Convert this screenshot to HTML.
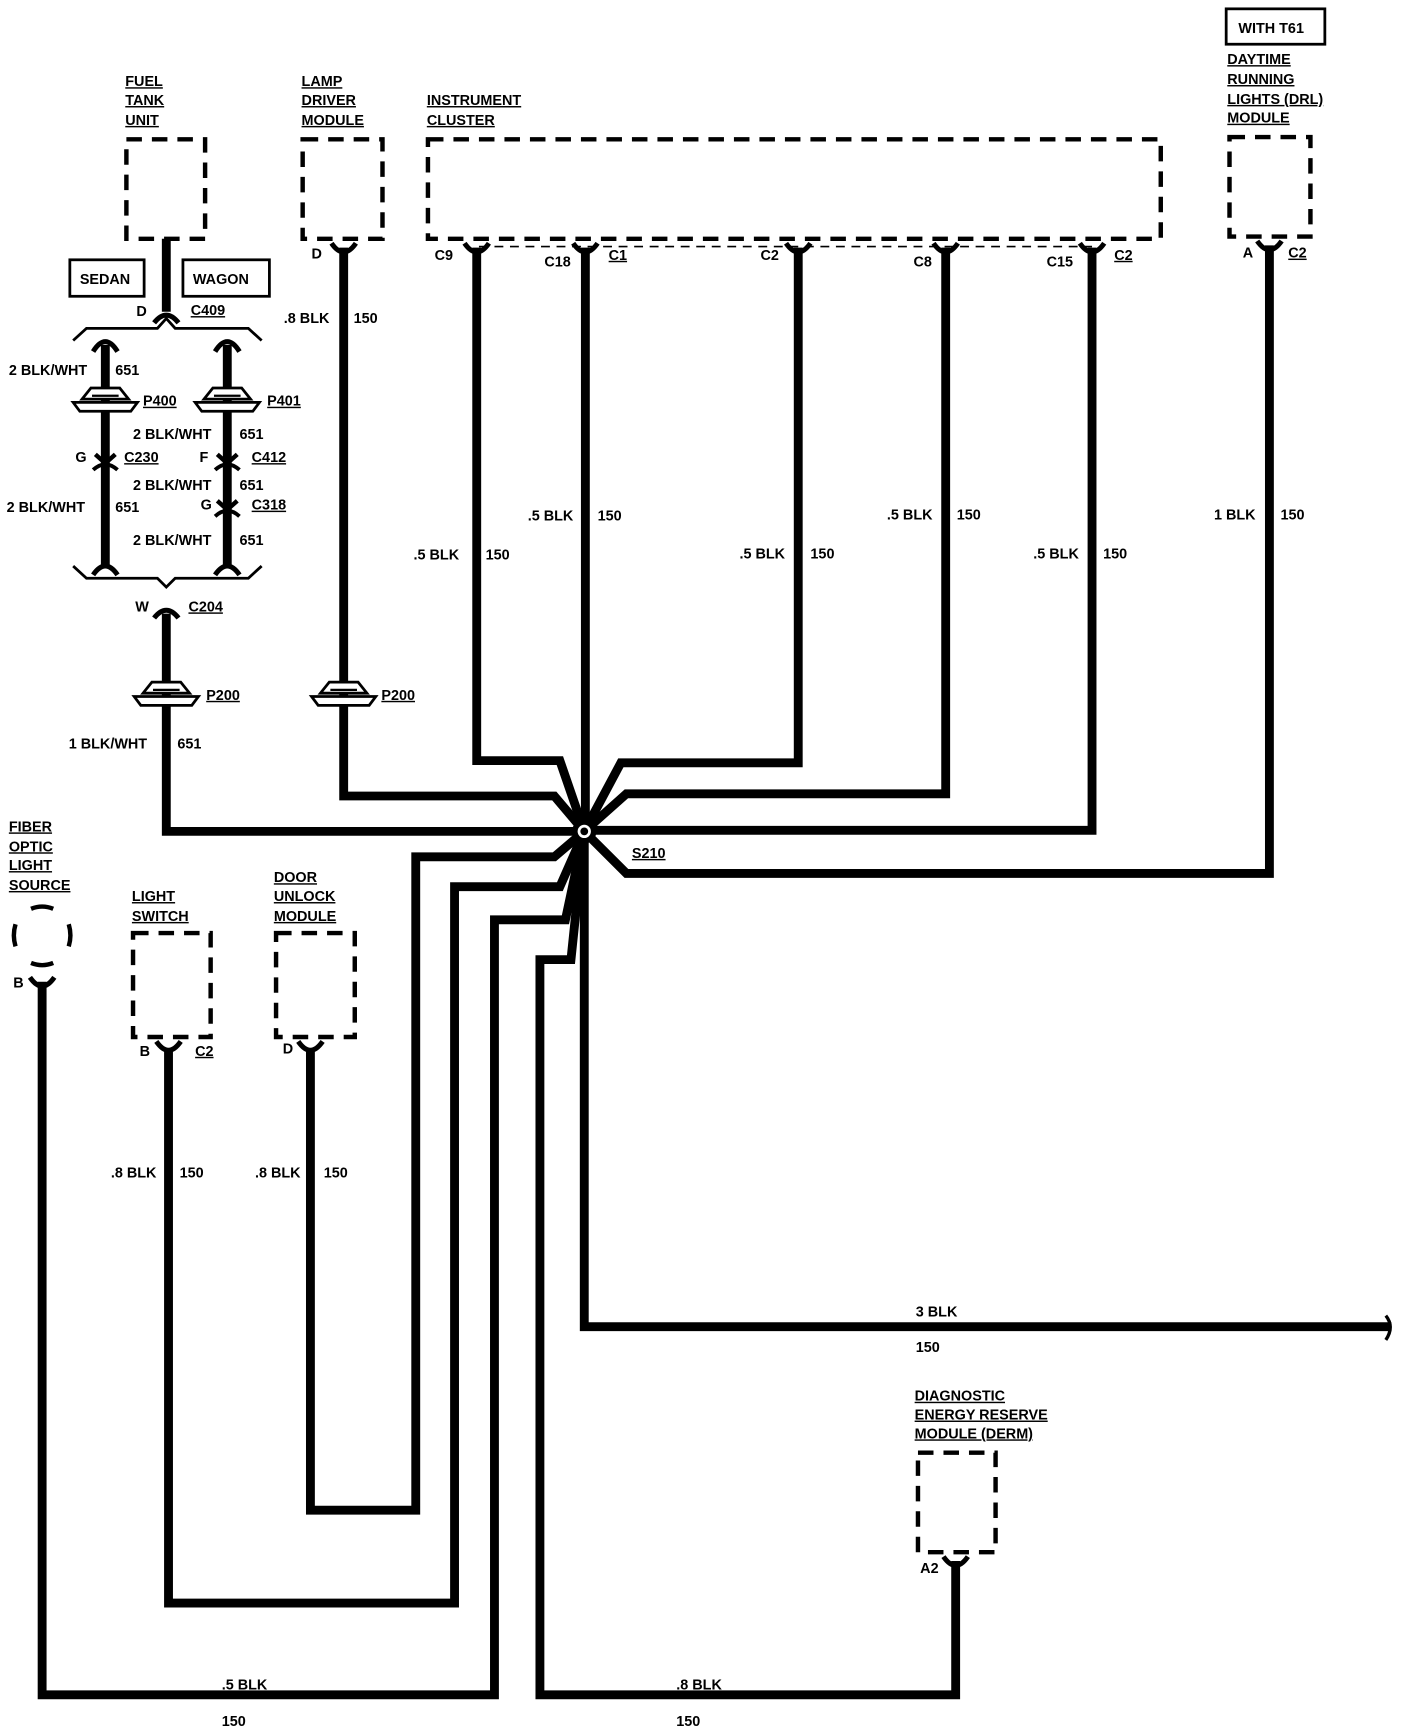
<!DOCTYPE html>
<html><head><meta charset="utf-8"><style>
html,body{margin:0;padding:0;background:#fff;}
svg{display:block}
text{font-family:"Liberation Sans",sans-serif;font-weight:bold;font-size:13px;fill:#000}
.u{text-decoration:underline}
</style></head><body>
<svg width="1408" height="1728" viewBox="0 0 1270 1563" preserveAspectRatio="none" xmlns="http://www.w3.org/2000/svg">
<defs>
<g id="fc"><path d="M-11,-8 Q0,8 11,-8" fill="none" stroke="#000" stroke-width="4.5"/></g>
<g id="ip">
<polygon points="-21,-1 -13,-11 13,-11 21,-1" fill="#fff" stroke="#000" stroke-width="2.5"/>
<polygon points="-29,2 29,2 23,10 -23,10" fill="#fff" stroke="#000" stroke-width="2.5"/>
<line x1="-12" y1="-4" x2="12" y2="-4" stroke="#000" stroke-width="2"/>
</g>
<g id="ic">
<path d="M-9,-9 L0,-1 L9,-9" fill="none" stroke="#000" stroke-width="4"/>
<path d="M-11,5 Q0,-5 11,5" fill="none" stroke="#000" stroke-width="3.5"/>
</g>
</defs>
<g fill="none" stroke="#000" stroke-width="4" stroke-dasharray="14,9">
<rect x="114" y="126" width="71" height="90"/>
<rect x="273" y="126" width="72" height="90"/>
<rect x="386" y="126" width="661" height="90"/>
<rect x="1109" y="124" width="73" height="90"/>
<rect x="120" y="844" width="70" height="94"/>
<rect x="249" y="844" width="71" height="94"/>
<rect x="828" y="1314" width="70" height="90"/>
</g>
<line x1="432" y1="223" x2="985" y2="223" stroke="#000" stroke-width="1.5" stroke-dasharray="8,6"/>
<rect x="1106" y="8" width="89" height="32" fill="none" stroke="#000" stroke-width="2.5"/>
<rect x="63" y="235" width="67" height="33" fill="none" stroke="#000" stroke-width="2.5"/>
<rect x="165" y="235" width="78" height="33" fill="none" stroke="#000" stroke-width="2.5"/>
<g fill="none" stroke="#000" stroke-width="8" stroke-linejoin="miter">
<line x1="150" y1="216" x2="150" y2="282"/>
<line x1="95" y1="312" x2="95" y2="512"/>
<line x1="205" y1="312" x2="205" y2="512"/>
<polyline points="150,555 150,752 527,752"/>
<polyline points="310,224 310,720 500,720 527,752"/>
<polyline points="430,224 430,688 505,688 527,752"/>
<line x1="528" y1="224" x2="528" y2="752"/>
<polyline points="720,224 720,690 560,690 527,752"/>
<polyline points="853,224 853,718 565,718 527,752"/>
<polyline points="985,224 985,751 527,751"/>
<polyline points="1145,222 1145,790 565,790 527,752"/>
<polyline points="527,752 500,775 375,775 375,1366 280,1366 280,948"/>
<polyline points="527,752 505,802 410,802 410,1450 152,1450 152,948"/>
<polyline points="527,752 510,832 446,832 446,1533 38,1533 38,888"/>
<polyline points="527,752 515,868 487,868 487,1533 862,1533 862,1412"/>
<polyline points="527,752 527,1200 1255,1200"/>
</g>
<path d="M1250,1190 Q1258,1200 1250,1212" fill="none" stroke="#000" stroke-width="3"/>
<circle cx="527" cy="752" r="11" fill="#000"/>
<circle cx="527" cy="752" r="6" fill="#fff" stroke="none"/>
<circle cx="527" cy="752" r="3.5" fill="#000"/>
<g fill="none" stroke="#000" stroke-width="2.5">
<polyline points="66,308 78,297 142,297 150,288 158,297 224,297 236,308"/>
<polyline points="66,512 78,523 142,523 150,531 158,523 224,523 236,512"/>
</g>
<g fill="none" stroke="#000" stroke-width="4.5">
<path d="M139,292 Q150,278 161,292"/>
<path d="M84,318 Q95,300 106,318"/>
<path d="M194,318 Q205,300 216,318"/>
<path d="M84,520 Q95,504 106,520"/>
<path d="M194,520 Q205,504 216,520"/>
<path d="M139,559 Q150,545 161,559"/>
</g>
<use href="#fc" x="310" y="228"/>
<use href="#fc" x="430" y="228"/>
<use href="#fc" x="528" y="228"/>
<use href="#fc" x="720" y="228"/>
<use href="#fc" x="853" y="228"/>
<use href="#fc" x="985" y="228"/>
<use href="#fc" x="1145" y="226"/>
<use href="#fc" x="152" y="950"/>
<use href="#fc" x="280" y="950"/>
<use href="#fc" x="38" y="892"/>
<use href="#fc" x="862" y="1416"/>
<use href="#ip" x="95" y="362"/>
<use href="#ip" x="205" y="362"/>
<use href="#ip" x="150" y="628"/>
<use href="#ip" x="310" y="628"/>
<use href="#ic" x="95" y="420"/>
<use href="#ic" x="205" y="420"/>
<use href="#ic" x="205" y="462"/>
<g fill="none" stroke="#000" stroke-width="4">
<path d="M28,822 Q38,818 48,822"/>
<path d="M14,836 Q11,846 14,856"/>
<path d="M62,836 Q65,846 62,856"/>
<path d="M28,871 Q38,875 48,871"/>
</g>
<text x="113" y="78" class="u">FUEL</text>
<text x="113" y="95" class="u">TANK</text>
<text x="113" y="113" class="u">UNIT</text>
<text x="272" y="78" class="u">LAMP</text>
<text x="272" y="95" class="u">DRIVER</text>
<text x="272" y="113" class="u">MODULE</text>
<text x="385" y="95" class="u">INSTRUMENT</text>
<text x="385" y="113" class="u">CLUSTER</text>
<text x="1117" y="30">WITH T61</text>
<text x="1107" y="58" class="u">DAYTIME</text>
<text x="1107" y="76" class="u">RUNNING</text>
<text x="1107" y="94" class="u">LIGHTS (DRL)</text>
<text x="1107" y="111" class="u">MODULE</text>
<text x="72" y="257">SEDAN</text>
<text x="174" y="257">WAGON</text>
<text x="123" y="286">D</text>
<text x="172" y="285" class="u">C409</text>
<text x="8" y="339">2 BLK/WHT</text>
<text x="104" y="339">651</text>
<text x="129" y="367" class="u">P400</text>
<text x="241" y="367" class="u">P401</text>
<text x="120" y="397">2 BLK/WHT</text>
<text x="216" y="397">651</text>
<text x="68" y="418">G</text>
<text x="112" y="418" class="u">C230</text>
<text x="180" y="418">F</text>
<text x="227" y="418" class="u">C412</text>
<text x="120" y="443">2 BLK/WHT</text>
<text x="216" y="443">651</text>
<text x="6" y="463">2 BLK/WHT</text>
<text x="104" y="463">651</text>
<text x="181" y="461">G</text>
<text x="227" y="461" class="u">C318</text>
<text x="120" y="493">2 BLK/WHT</text>
<text x="216" y="493">651</text>
<text x="122" y="553">W</text>
<text x="170" y="553" class="u">C204</text>
<text x="186" y="633" class="u">P200</text>
<text x="344" y="633" class="u">P200</text>
<text x="62" y="677">1 BLK/WHT</text>
<text x="160" y="677">651</text>
<text x="281" y="234">D</text>
<text x="256" y="292">.8 BLK</text>
<text x="319" y="292">150</text>
<text x="392" y="235">C9</text>
<text x="491" y="241">C18</text>
<text x="549" y="235" class="u">C1</text>
<text x="686" y="235">C2</text>
<text x="824" y="241">C8</text>
<text x="944" y="241">C15</text>
<text x="1005" y="235" class="u">C2</text>
<text x="1121" y="233">A</text>
<text x="1162" y="233" class="u">C2</text>
<text x="373" y="506">.5 BLK</text>
<text x="438" y="506">150</text>
<text x="476" y="471">.5 BLK</text>
<text x="539" y="471">150</text>
<text x="667" y="505">.5 BLK</text>
<text x="731" y="505">150</text>
<text x="800" y="470">.5 BLK</text>
<text x="863" y="470">150</text>
<text x="932" y="505">.5 BLK</text>
<text x="995" y="505">150</text>
<text x="1095" y="470">1 BLK</text>
<text x="1155" y="470">150</text>
<text x="570" y="776" class="u">S210</text>
<text x="8" y="752" class="u">FIBER</text>
<text x="8" y="770" class="u">OPTIC</text>
<text x="8" y="787" class="u">LIGHT</text>
<text x="8" y="805" class="u">SOURCE</text>
<text x="12" y="893">B</text>
<text x="119" y="815" class="u">LIGHT</text>
<text x="119" y="833" class="u">SWITCH</text>
<text x="247" y="798" class="u">DOOR</text>
<text x="247" y="815" class="u">UNLOCK</text>
<text x="247" y="833" class="u">MODULE</text>
<text x="126" y="955">B</text>
<text x="176" y="955" class="u">C2</text>
<text x="255" y="953">D</text>
<text x="100" y="1065">.8 BLK</text>
<text x="162" y="1065">150</text>
<text x="230" y="1065">.8 BLK</text>
<text x="292" y="1065">150</text>
<text x="826" y="1191">3 BLK</text>
<text x="826" y="1223">150</text>
<text x="825" y="1267" class="u">DIAGNOSTIC</text>
<text x="825" y="1284" class="u">ENERGY RESERVE</text>
<text x="825" y="1301" class="u">MODULE (DERM)</text>
<text x="830" y="1423">A2</text>
<text x="200" y="1528">.5 BLK</text>
<text x="200" y="1561">150</text>
<text x="610" y="1528">.8 BLK</text>
<text x="610" y="1561">150</text>
</svg>
</body></html>
